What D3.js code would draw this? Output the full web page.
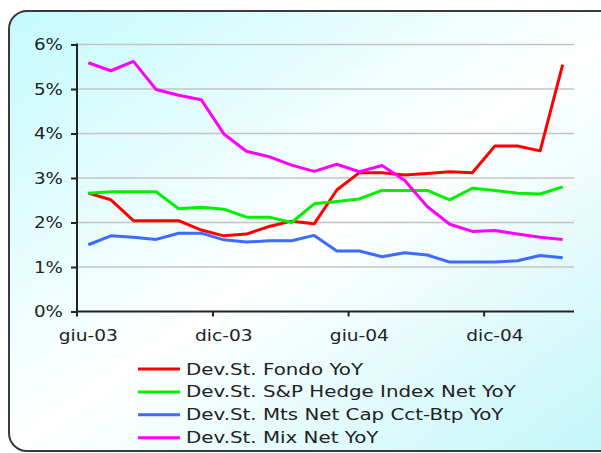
<!DOCTYPE html>
<html>
<head>
<meta charset="utf-8">
<script src="https://cdn.jsdelivr.net/npm/d3@7"></script>
<style>
  body { margin: 0; background: #fff; }
  text { font-family: "DejaVu Sans", Verdana, sans-serif; fill: #222; }
</style>
</head>
<body>
<div id="chart"></div>
<script>
// Data
const months = ['giu-03','lug-03','ago-03','set-03','ott-03','nov-03','dic-03','gen-04','feb-04','mar-04','apr-04',
  'mag-04','giu-04','lug-04','ago-04','set-04','ott-04','nov-04','dic-04','gen-05','feb-05','mar-05']
const tickLabels = ['giu-03','dic-03','giu-04','dic-04']
const yTicks = [0, 0.01, 0.02, 0.03, 0.04, 0.05, 0.06]

const fondo = [2.66,2.51,2.04,2.04,2.04,1.83,1.70,1.74,1.91,2.03,1.97,2.73,3.12,3.12,3.07,3.10,3.14,3.12,3.72,3.72,3.61,5.55]
const hedge = [2.66,2.69,2.69,2.69,2.31,2.34,2.30,2.12,2.12,2.00,2.42,2.47,2.53,2.72,2.72,2.72,2.51,2.77,2.72,2.66,2.64,2.80]
const mts = [1.50,1.70,1.67,1.62,1.76,1.76,1.61,1.56,1.59,1.59,1.71,1.36,1.36,1.23,1.32,1.27,1.11,1.11,1.11,1.14,1.26,1.21]
const mix = [5.59,5.41,5.62,4.99,4.86,4.76,3.99,3.60,3.48,3.29,3.15,3.31,3.14,3.28,2.95,2.36,1.96,1.80,1.82,1.74,1.67,1.62]

const seriesNames = ['Dev.St. Fondo YoY', 'Dev.St. S&P Hedge Index Net YoY', 'Dev.St. Mts Net Cap Cct-Btp YoY', 'Dev.St. Mix Net YoY']
const seriesValues = [fondo, hedge, mts, mix]
const colors = ['#ff0000', '#00f000', '#3d6bff', '#ff00ff']

// Dimensions
const width = 601, height = 453
const plot = { left: 77, right: 574, top: 44.5, bottom: 311.5 }

const svg = d3.select('#chart').append('svg')
  .attr('width', width)
  .attr('height', height)

// Background frame
const grad = svg.append('defs').append('linearGradient')
  .attr('id', 'bg')
  .attr('x1', 0).attr('y1', 0).attr('x2', 1).attr('y2', 1)
grad.append('stop').attr('offset', '0%').attr('stop-color', '#c4fafd')
grad.append('stop').attr('offset', '50%').attr('stop-color', '#ffffff')
grad.append('stop').attr('offset', '100%').attr('stop-color', '#bff5f8')

svg.append('rect')
  .attr('x', 9).attr('y', 11)
  .attr('width', 640).attr('height', 440)
  .attr('rx', 18)
  .attr('fill', 'url(#bg)')
  .attr('stroke', '#3a3a3a')
  .attr('stroke-width', 2)

// Scales
const xScale = d3.scaleBand()
  .domain(months)
  .range([plot.left, plot.right])
  .padding(0)

const xEdge = d3.scaleLinear()
  .domain([0, months.length])
  .range([plot.left, plot.right])

const yScale = d3.scaleLinear()
  .domain([0, 0.06])
  .range([plot.bottom, plot.top])

const xPos = (i) => xScale(months[i]) + xScale.bandwidth() / 2

// the text in the picture is drawn wider than normal
const stretchText = (sel, k) => {
  sel.each(function () {
    const t = d3.select(this)
    const x = +t.attr('x') || 0
    t.attr('x', 0).attr('transform', `translate(${x},0) scale(${k},1)`)
  })
}

// Gridlines
svg.append('g')
  .selectAll('line')
  .data(yTicks.slice(1))
  .join('line')
  .attr('x1', plot.left).attr('x2', plot.right)
  .attr('y1', d => yScale(d)).attr('y2', d => yScale(d))
  .attr('stroke', '#c4c4c4')
  .attr('stroke-width', 1.5)

// Y axis
const yAxisGroup = svg.append('g')
  .attr('transform', `translate(${plot.left},0)`)
  .call(d3.axisLeft(yScale).tickValues(yTicks).tickFormat(d3.format('.0%')).tickSize(6).tickPadding(8))
yAxisGroup.select('.domain').remove()
yAxisGroup.selectAll('line').attr('stroke', '#222').attr('stroke-width', 2)
yAxisGroup.selectAll('text')
  .attr('font-size', 15)
  .attr('font-family', '"DejaVu Sans", Verdana, sans-serif')
  .attr('fill', '#222')
  .attr('dy', '0.36em')
  .call(stretchText, 1.22)
svg.append('line')
  .attr('x1', plot.left).attr('x2', plot.left)
  .attr('y1', plot.top - 1).attr('y2', plot.bottom + 5)
  .attr('stroke', '#222').attr('stroke-width', 2)

// X axis: tick marks at the month edges, labels at the month centres
const xTickGroup = svg.append('g')
  .attr('transform', `translate(0,${plot.bottom})`)
  .call(d3.axisBottom(xEdge).tickValues([6, 12, 18]).tickSize(5).tickFormat(''))
xTickGroup.select('.domain').attr('d', `M${plot.left},0H${plot.right}`).attr('stroke', '#222').attr('stroke-width', 2)
xTickGroup.selectAll('line').attr('stroke', '#222').attr('stroke-width', 2)

const xLabelGroup = svg.append('g')
  .attr('transform', `translate(0,${plot.bottom})`)
  .call(d3.axisBottom(xScale).tickValues(tickLabels).tickSize(0))
xLabelGroup.select('.domain').remove()
xLabelGroup.selectAll('text')
  .attr('font-size', 15)
  .attr('font-family', '"DejaVu Sans", Verdana, sans-serif')
  .attr('fill', '#222')
  .attr('y', 30)
  .attr('dy', 0)
  .call(stretchText, 1.24)

// Lines
const line = d3.line()
  .x((d, i) => xPos(i))
  .y(d => yScale(d / 100))

svg.append('g')
  .selectAll('path')
  .data(seriesValues)
  .join('path')
  .attr('d', line)
  .attr('fill', 'none')
  .attr('stroke', (d, i) => colors[i])
  .attr('stroke-width', 3)
  .attr('stroke-linejoin', 'round')

// Legend
const legend = svg.append('g')
  .selectAll('g')
  .data(seriesNames)
  .join('g')
  .attr('transform', (d, i) => `translate(138,${369 + i * 22.9})`)

legend.append('line')
  .attr('x1', 0).attr('x2', 42)
  .attr('stroke', (d, i) => colors[i])
  .attr('stroke-width', 3)

legend.append('text')
  .attr('x', 48)
  .attr('y', 5.5)
  .attr('font-size', 15.5)
  .text(d => d)
  .call(stretchText, 1.28)
</script>
</body>
</html>
